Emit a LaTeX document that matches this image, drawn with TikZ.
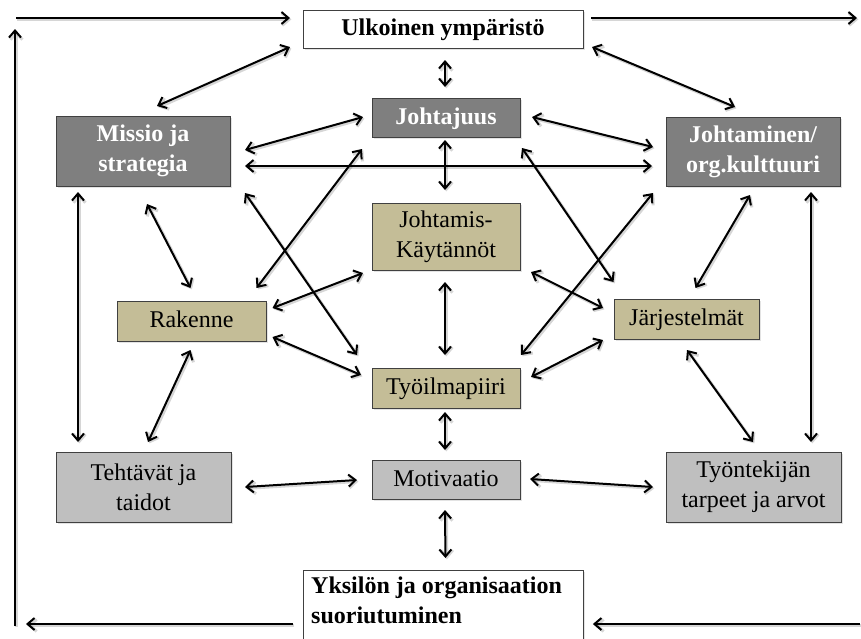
\documentclass[tikz,border=0pt]{standalone}
\usepackage{fontspec}
\setmainfont{Liberation Serif}
\usetikzlibrary{arrows.meta,calc,shadows}
\definecolor{boxtan}{HTML}{C4BD97}
\definecolor{boxdark}{HTML}{7F7F7F}
\definecolor{boxlight}{HTML}{BFBFBF}
\newcommand\boxfont{\fontsize{24}{30}\selectfont}
\begin{document}
\begin{tikzpicture}[x=1pt,y=-1pt,
  box/.style={draw=black!75, line width=0.9pt, inner sep=0pt, align=center,
    font=\boxfont,
    drop shadow={opacity=0.22, shadow xshift=1.8pt, shadow yshift=-1.8pt}},
  oneline/.style={text height=17pt, text depth=4pt},
  darkbox/.style={box, fill=boxdark, text=white, font=\boxfont\bfseries},
  tanbox/.style={box, fill=boxtan},
  greybox/.style={box, fill=boxlight},
  whitebox/.style={box, fill=white, font=\boxfont\bfseries},
  tip/.tip={Straight Barb[length=7pt,width=12pt]},
  soft/.style={preaction={draw=black, draw opacity=0.16, line width=3pt,
    transform canvas={shift={(1.4pt,-1.4pt)}}}},
  link/.style={soft, line width=2pt, tip-tip},
  flow/.style={soft, line width=2pt, -tip}
]
\useasboundingbox (0,0) rectangle (861,638);

% boxes
\node[whitebox, oneline, minimum width=280pt, minimum height=38pt] (ulk) at (443,29) {Ulkoinen ympäristö};
\node[darkbox, oneline, minimum width=148pt, minimum height=39pt] (joh) at (446,117.5) {Johtajuus};
\node[darkbox, minimum width=174pt, minimum height=70pt] (mis) at (143,151) {Missio ja\\strategia};
\node[darkbox, minimum width=174pt, minimum height=69pt] (jkk) at (753,151.5) {Johtaminen/\\org.kulttuuri};
\node[tanbox, minimum width=148pt, minimum height=67pt] (jka) at (446,236.5) {Johtamis-\\Käytännöt};
\node[tanbox, oneline, minimum width=149pt, minimum height=40pt] (rak) at (191.5,321) {Rakenne};
\node[tanbox, oneline, minimum width=145pt, minimum height=40pt] (jar) at (686.5,319) {Järjestelmät};
\node[tanbox, oneline, minimum width=148pt, minimum height=40pt] (tyi) at (446,388) {Työilmapiiri};
\node[greybox, minimum width=175pt, minimum height=70pt] (teh) at (143.5,487) {Tehtävät ja\\taidot};
\node[greybox, oneline, minimum width=148pt, minimum height=39pt] (mot) at (446,479.5) {Motivaatio};
\node[greybox, minimum width=175pt, minimum height=70pt] (tyo) at (753.5,487) {Työntekijän\\tarpeet ja arvot};
\node[whitebox, anchor=north west, minimum width=280pt, minimum height=92pt] (yks) at (303,570) {};
\node[font=\boxfont\bfseries, anchor=north west, align=left, inner sep=0pt] (yksT) at (311,577)
  {Yksilön ja organisaation\\suoriutuminen};

% outer feedback loop
\coordinate (lb) at (15,626);
\coordinate (lt) at (15,29);
\coordinate (tl) at (16,18);
\coordinate (tr) at (857,18);
\coordinate (br) at (860,624);
\coordinate (bl) at (26,624);
\draw[flow] ($(yks.north west)+(-10,54)$) -- (bl);
\draw[flow] (lb) -- (lt);
\draw[flow] (tl) -- ($(ulk)+(-153,-11)$);
\draw[flow] ($(ulk)+(148,-11)$) -- (tr);
\draw[flow] (br) -- ($(yks.north east)+(9,54)$);

% links from the environment
\draw[link] ($(ulk)+(-153,18)$) -- ($(mis)+(14,-45)$);
\draw[link] ($(ulk)+(2,31)$) -- ($(joh)+(-1,-30.5)$);
\draw[link] ($(ulk)+(149,18)$) -- ($(jkk)+(-18,-44.5)$);

% top row
\draw[link] ($(mis)+(102,-1)$) -- ($(joh)+(-83,-0.5)$);
\draw[link] ($(mis)+(102,15)$) -- ($(jkk)+(-101,14.5)$);
\draw[link] ($(joh)+(86,-0.5)$) -- ($(jkk)+(-100,-4.5)$);
\draw[link] ($(joh)+(-1,22.5)$) -- ($(jka)+(-1,-46.5)$);

% middle web
\draw[link] ($(mis)+(4,53)$) -- ($(rak)+(-1,-33)$);
\draw[link] ($(mis)+(102,42)$) -- ($(tyi)+(-89,-33)$);
\draw[link] ($(joh)+(-84,31.5)$) -- ($(rak)+(65,-33)$);
\draw[link] ($(rak)+(81,-13)$) -- ($(jka)+(-83,36.5)$);
\draw[link] ($(rak)+(81,16)$) -- ($(tyi)+(-85,-13)$);
\draw[link] ($(jka)+(-1,45.5)$) -- ($(tyi)+(-1,-33)$);
\draw[link] ($(joh)+(76,30.5)$) -- ($(jar)+(-73,-37)$);
\draw[link] ($(jkk)+(-100,41.5)$) -- ($(tyi)+(75,-33)$);
\draw[link] ($(jka)+(85,35.5)$) -- ($(jar)+(-83.5,-11)$);
\draw[link] ($(tyi)+(85,-11)$) -- ($(jar)+(-83.5,21)$);
\draw[link] ($(jkk)+(-3,43.5)$) -- ($(jar)+(9,-31)$);

% lower part
\draw[link] ($(mis)+(-65,41)$) -- ($(teh)+(-65.5,-45)$);
\draw[link] ($(jkk)+(58,40.5)$) -- ($(tyo)+(57.5,-45)$);
\draw[link] ($(rak)+(-1,29)$) -- ($(teh)+(4.5,-45)$);
\draw[link] ($(jar)+(0.5,31)$) -- ($(tyo)+(-0.5,-45)$);
\draw[link] ($(teh)+(101.5,0)$) -- ($(mot)+(-89,0.5)$);
\draw[link] ($(tyi)+(-1,24)$) -- ($(mot)+(-1,-29.5)$);
\draw[link] ($(mot)+(84,-0.5)$) -- ($(tyo)+(-100.5,0)$);
\draw[link] ($(mot)+(-1,30.5)$) -- ($(yks.north)+(2,-12)$);
\end{tikzpicture}
\end{document}
